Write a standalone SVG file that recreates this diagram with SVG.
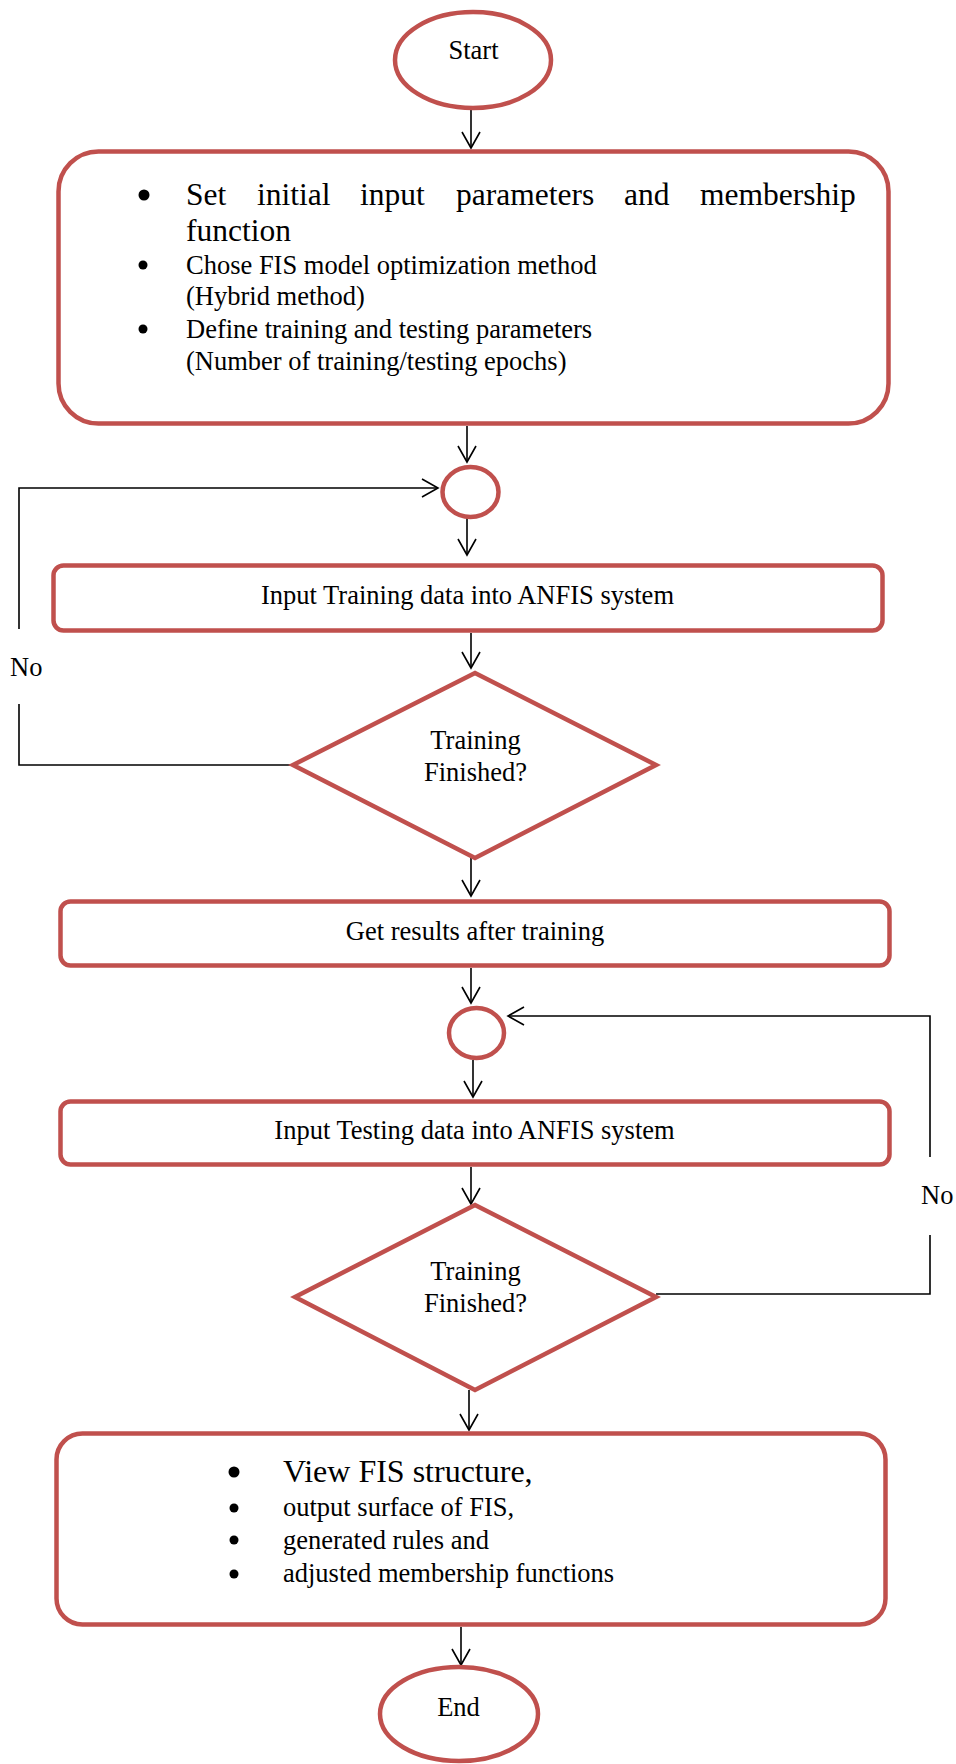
<svg xmlns="http://www.w3.org/2000/svg" width="956" height="1764" viewBox="0 0 956 1764">
<style>
.n{fill:#fff;stroke:#C0504D;stroke-width:4.5}
.t{font-family:"Liberation Serif","Times New Roman",serif;fill:#000;font-size:26.5px}
.c{text-anchor:middle}
.big{font-size:31.5px}
.e{fill:none;stroke:#000;stroke-width:1.6}
.b{fill:#000}
</style>
<defs>
<marker id="ah" viewBox="0 0 20 20" refX="18" refY="10" markerWidth="20" markerHeight="20" markerUnits="userSpaceOnUse" orient="auto">
<path d="M2 1 L18 10 L2 19" fill="none" stroke="#000" stroke-width="1.6"/>
</marker>
</defs>
<rect width="956" height="1764" fill="#fff"/>
<g id="connectors">
<line class="e" x1="471" y1="110" x2="471" y2="148" marker-end="url(#ah)"/>
<line class="e" x1="467" y1="426" x2="467" y2="462" marker-end="url(#ah)"/>
<line class="e" x1="467" y1="518" x2="467" y2="555" marker-end="url(#ah)"/>
<line class="e" x1="471" y1="633" x2="471" y2="668" marker-end="url(#ah)"/>
<line class="e" x1="471" y1="858" x2="471" y2="896" marker-end="url(#ah)"/>
<line class="e" x1="471" y1="968" x2="471" y2="1003" marker-end="url(#ah)"/>
<line class="e" x1="473" y1="1060" x2="473" y2="1097" marker-end="url(#ah)"/>
<line class="e" x1="471" y1="1167" x2="471" y2="1204" marker-end="url(#ah)"/>
<line class="e" x1="469" y1="1390" x2="469" y2="1430" marker-end="url(#ah)"/>
<line class="e" x1="461" y1="1627" x2="461" y2="1665" marker-end="url(#ah)"/>
<polyline class="e" points="293,765 19,765 19,704"/>
<polyline class="e" points="19,629 19,488 438,488" marker-end="url(#ah)"/>
<polyline class="e" points="656,1294 930,1294 930,1235"/>
<polyline class="e" points="930,1157 930,1016 508,1016" marker-end="url(#ah)"/>
<text class="t" x="10" y="676">No</text>
<text class="t" x="921" y="1204">No</text>
</g>
<g id="start">
<ellipse class="n" cx="473" cy="60" rx="78" ry="48"/>
<text class="t c" x="473.5" y="59">Start</text>
</g>
<g id="setup">
<rect class="n" x="58.5" y="151.5" width="830" height="272" rx="40" ry="40"/>
<circle class="b" cx="144" cy="195" r="5.5"/>
<circle class="b" cx="143" cy="265" r="4.5"/>
<circle class="b" cx="143" cy="329" r="4.5"/>
<text class="t big" y="205"><tspan x="186">Set</tspan><tspan x="257">initial</tspan><tspan x="360">input</tspan><tspan x="456">parameters</tspan><tspan x="624">and</tspan><tspan x="700">membership</tspan></text>
<text class="t big" x="186" y="241">function</text>
<text class="t" x="186" y="274">Chose FIS model optimization method</text>
<text class="t" x="186" y="305">(Hybrid method)</text>
<text class="t" x="186" y="338">Define training and testing parameters</text>
<text class="t" x="186" y="370">(Number of training/testing epochs)</text>
</g>
<g id="join1">
<ellipse class="n" cx="470.5" cy="492" rx="28" ry="25"/>
</g>
<g id="train-input">
<rect class="n" x="53.5" y="565.5" width="829" height="65" rx="10" ry="10"/>
<text class="t c" x="467.5" y="604">Input Training data into ANFIS system</text>
</g>
<g id="decision1">
<polygon class="n" points="475,673 656,765 475,858 293,765"/>
<text class="t c" x="475.5" y="749">Training</text>
<text class="t c" x="475.5" y="781">Finished?</text>
</g>
<g id="results">
<rect class="n" x="60.5" y="901.5" width="829" height="64" rx="10" ry="10"/>
<text class="t c" x="475" y="940">Get results after training</text>
</g>
<g id="join2">
<ellipse class="n" cx="476.5" cy="1033" rx="27.5" ry="25"/>
</g>
<g id="test-input">
<rect class="n" x="60.5" y="1101.5" width="829" height="63" rx="10" ry="10"/>
<text class="t c" x="474.5" y="1139">Input Testing data into ANFIS system</text>
</g>
<g id="decision2">
<polygon class="n" points="475,1205 656,1297 475,1390 295,1297"/>
<text class="t c" x="475.5" y="1280">Training</text>
<text class="t c" x="475.5" y="1312">Finished?</text>
</g>
<g id="view">
<rect class="n" x="56.5" y="1433.5" width="829" height="191" rx="26" ry="26"/>
<circle class="b" cx="234" cy="1472" r="5.5"/>
<circle class="b" cx="234" cy="1508" r="4.5"/>
<circle class="b" cx="234" cy="1540" r="4.5"/>
<circle class="b" cx="234" cy="1574" r="4.5"/>
<text class="t" x="283" y="1482" style="font-size:32px">View FIS structure,</text>
<text class="t" x="283" y="1516">output surface of FIS,</text>
<text class="t" x="283" y="1549">generated rules and</text>
<text class="t" x="283" y="1582">adjusted membership functions</text>
</g>
<g id="end">
<ellipse class="n" cx="459" cy="1714" rx="79" ry="47"/>
<text class="t c" x="458.5" y="1716">End</text>
</g>
</svg>
